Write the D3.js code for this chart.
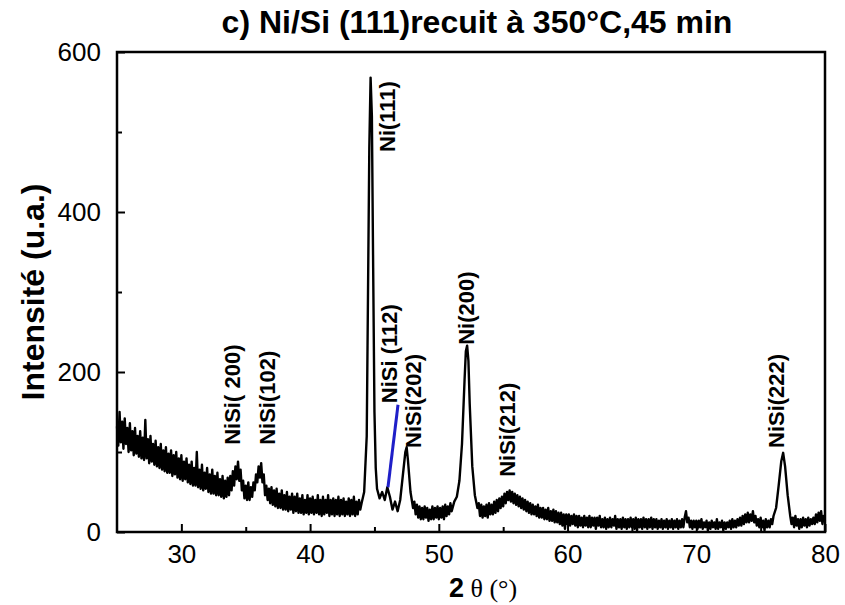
<!DOCTYPE html>
<html>
<head>
<meta charset="utf-8">
<script src="https://cdn.jsdelivr.net/npm/d3@7"></script>
<style>
  body { margin: 0; background: #fff; }
  text { font-family: "Liberation Sans", Arial, sans-serif; }
</style>
</head>
<body>
<svg id="chart"></svg>
<script>
// XRD scan, [2theta, intensity]
const pattern = [
  [25.0,132],[25.1,108],[25.2,150],[25.3,112],[25.4,138],[25.5,104],[25.6,142],[25.7,110],[25.8,130],[25.9,100],
  [26.0,136],[26.1,102],[26.2,126],[26.3,96],[26.4,130],[26.5,98],[26.6,120],[26.7,94],[26.8,126],[26.9,92],
  [27.0,118],[27.1,90],[27.2,140],[27.3,92],[27.4,116],[27.5,86],[27.6,120],[27.7,88],[27.8,110],[27.9,84],
  [28.0,114],[28.1,82],[28.2,106],[28.3,80],[28.4,110],[28.5,78],[28.6,102],[28.7,76],[28.8,106],[28.9,74],
  [29.0,98],[29.1,74],[29.2,102],[29.3,70],[29.4,96],[29.5,72],[29.6,100],[29.7,68],[29.8,92],[29.9,66],
  [30.0,96],[30.1,64],[30.2,88],[30.3,66],[30.4,92],[30.5,62],[30.6,84],[30.7,60],[30.8,88],[30.9,58],
  [31.0,80],[31.1,58],[31.2,100],[31.3,56],[31.4,78],[31.5,54],[31.6,84],[31.7,52],[31.8,74],[31.9,54],
  [32.0,80],[32.1,50],[32.2,72],[32.3,48],[32.4,78],[32.5,48],[32.6,70],[32.7,46],[32.8,74],[32.9,46],
  [33.0,66],[33.1,44],[33.2,70],[33.3,42],[33.4,64],[33.5,44],[33.6,68],[33.7,46],[33.8,70],[33.9,52],
  [34.0,76],[34.1,58],[34.2,82],[34.3,66],[34.4,88],[34.5,64],[34.6,78],[34.7,52],[34.8,64],[34.9,42],
  [35.0,58],[35.1,40],[35.2,62],[35.3,40],[35.4,56],[35.5,44],[35.6,62],[35.7,52],[35.8,72],[35.9,62],
  [36.0,82],[36.1,68],[36.2,86],[36.3,62],[36.4,72],[36.5,46],[36.6,58],[36.7,40],[36.8,54],[36.9,36],
  [37.0,56],[37.1,34],[37.2,52],[37.3,32],[37.4,54],[37.5,30],[37.6,48],[37.7,30],[37.8,52],[37.9,28],
  [38.0,46],[38.1,28],[38.2,50],[38.3,26],[38.4,44],[38.5,28],[38.6,48],[38.7,24],[38.8,44],[38.9,26],
  [39.0,48],[39.1,24],[39.2,42],[39.3,24],[39.4,46],[39.5,22],[39.6,40],[39.7,24],[39.8,46],[39.9,22],
  [40.0,42],[40.1,24],[40.2,44],[40.3,22],[40.4,40],[40.5,24],[40.6,46],[40.7,22],[40.8,40],[40.9,20],
  [41.0,44],[41.1,22],[41.2,40],[41.3,24],[41.4,46],[41.5,20],[41.6,40],[41.7,22],[41.8,42],[41.9,20],
  [42.0,40],[42.1,22],[42.2,44],[42.3,20],[42.4,40],[42.5,22],[42.6,42],[42.7,20],[42.8,38],[42.9,22],
  [43.0,42],[43.1,20],[43.2,40],[43.3,22],[43.4,44],[43.5,20],[43.6,38],[43.7,22],[43.8,40],[43.9,28],
  [44.0,36],[44.2,50],[44.4,120],[44.5,300],[44.6,480],
  [44.7,568],[44.8,520],[44.9,330],[45.0,150],[45.1,80],[45.2,54],[45.4,42],[45.6,50],[45.8,40],[46.0,56],
  [46.2,44],[46.4,28],[46.6,38],[46.8,26],[47.0,40],[47.2,70],[47.4,100],[47.5,106],[47.6,90],[47.8,50],
  [48.0,30],[48.1,38],[48.2,22],[48.3,34],[48.4,18],[48.5,32],[48.6,16],[48.7,30],[48.8,16],[48.9,32],
  [49.0,18],[49.1,30],[49.2,14],[49.3,28],[49.4,16],[49.5,32],[49.6,16],[49.7,30],[49.8,18],[49.9,32],
  [50.0,16],[50.1,30],[50.2,18],[50.3,32],[50.4,16],[50.5,34],[50.6,20],[50.7,32],[50.8,22],[50.9,36],
  [51.0,26],[51.2,38],[51.4,44],[51.6,64],[51.8,110],
  [52.0,190],[52.1,226],[52.2,233],[52.3,214],[52.4,160],[52.6,82],[52.8,46],[53.0,30],[53.1,36],[53.2,20],
  [53.3,34],[53.4,18],[53.5,32],[53.6,20],[53.7,34],[53.8,18],[53.9,36],[54.0,22],[54.1,34],[54.2,22],
  [54.3,38],[54.4,24],[54.5,40],[54.6,26],[54.7,42],[54.8,30],[54.9,44],[55.0,32],[55.1,48],[55.2,36],
  [55.3,50],[55.4,40],[55.5,52],[55.6,38],[55.7,50],[55.8,36],[55.9,48],[56.0,34],[56.1,46],[56.2,32],
  [56.3,44],[56.4,30],[56.5,42],[56.6,28],[56.7,40],[56.8,26],[56.9,38],[57.0,24],[57.1,36],[57.2,22],
  [57.3,34],[57.4,22],[57.5,32],[57.6,20],[57.7,34],[57.8,18],[57.9,30],[58.0,18],[58.1,30],[58.2,16],
  [58.3,28],[58.4,16],[58.5,30],[58.6,14],[58.7,26],[58.8,14],[58.9,28],[59.0,12],[59.1,26],[59.2,12],
  [59.3,24],[59.4,10],[59.5,24],[59.6,8],[59.7,22],[59.8,4],[59.9,22],[60.0,10],[60.1,22],[60.2,8],
  [60.3,20],[60.4,10],[60.5,22],[60.6,8],[60.7,20],[60.8,6],[60.9,20],[61.0,8],[61.1,18],[61.2,6],
  [61.3,20],[61.4,8],[61.5,18],[61.6,6],[61.7,20],[61.8,6],[61.9,18],[62.0,8],[62.1,18],[62.2,4],
  [62.3,18],[62.4,8],[62.5,20],[62.6,6],[62.7,16],[62.8,6],[62.9,18],[63.0,4],[63.1,16],[63.2,6],
  [63.3,18],[63.4,6],[63.5,16],[63.6,8],[63.7,20],[63.8,4],[63.9,16],[64.0,6],[64.1,16],[64.2,4],
  [64.3,18],[64.4,6],[64.5,16],[64.6,4],[64.7,16],[64.8,6],[64.9,18],[65.0,6],[65.1,16],[65.2,4],
  [65.3,18],[65.4,2],[65.5,16],[65.6,6],[65.7,16],[65.8,4],[65.9,18],[66.0,6],[66.1,16],[66.2,4],
  [66.3,16],[66.4,6],[66.5,18],[66.6,4],[66.7,16],[66.8,6],[66.9,16],[67.0,4],[67.1,14],[67.2,6],
  [67.3,16],[67.4,4],[67.5,14],[67.6,6],[67.7,16],[67.8,4],[67.9,14],[68.0,6],[68.1,16],[68.2,4],
  [68.3,14],[68.4,6],[68.5,16],[68.6,4],[68.7,14],[68.8,6],[68.9,16],[69.0,6],[69.1,18],[69.2,26],
  [69.3,12],[69.4,18],[69.5,6],[69.6,14],[69.7,4],[69.8,14],[69.9,6],[70.0,14],[70.1,4],[70.2,14],
  [70.3,6],[70.4,16],[70.5,4],[70.6,12],[70.7,6],[70.8,14],[70.9,2],[71.0,12],[71.1,4],[71.2,14],
  [71.3,6],[71.4,12],[71.5,4],[71.6,16],[71.7,4],[71.8,12],[71.9,6],[72.0,14],[72.1,2],[72.2,12],
  [72.3,4],[72.4,12],[72.5,6],[72.6,14],[72.7,4],[72.8,16],[72.9,6],[73.0,14],[73.1,6],[73.2,16],
  [73.3,8],[73.4,18],[73.5,8],[73.6,20],[73.7,10],[73.8,22],[73.9,12],[74.0,24],[74.1,12],[74.2,22],
  [74.3,14],[74.4,26],[74.5,12],[74.6,20],[74.7,8],[74.8,16],[74.9,6],[75.0,18],[75.1,6],[75.2,14],
  [75.3,2],[75.4,16],[75.5,6],[75.6,14],[75.7,6],[75.8,16],[75.9,10],[76.0,20],
  [76.2,30],[76.4,58],[76.6,88],[76.75,99],[76.9,82],[77.1,46],[77.3,20],
  [77.4,10],[77.5,18],[77.6,6],[77.7,20],[77.8,8],[77.9,16],[78.0,4],[78.1,16],[78.2,6],[78.3,18],
  [78.4,8],[78.5,16],[78.6,6],[78.7,18],[78.8,8],[78.9,16],[79.0,10],[79.1,18],[79.2,10],[79.3,22],
  [79.4,12],[79.5,24],[79.6,14],[79.7,26],[79.8,10],[79.9,20],[80.0,14]
]

// peak labels: text, 2theta where the label sits, intensity where it starts
const peakNames = ["NiSi( 200)", "NiSi(102)", "Ni(111)", "NiSi (112)", "NiSi(202)", "Ni(200)", "NiSi(212)", "NiSi(222)"]
const peakTheta = [33.93, 36.65, 45.97, 46.13, 48.0, 52.1, 55.3, 76.2]
const peakBase  = [109, 109, 475, 161, 105, 234, 69, 105]

// blue marker line near NiSi(112)
const markerLine = [[46.05, 56], [46.83, 159]]

const xMajor = [30, 40, 50, 60, 70, 80]
const xMinor = [35, 45, 55, 65, 75]
const yMajor = [0, 200, 400, 600]
const yMinor = [100, 300, 500]

const width = 845, height = 605
const margins = {left: 117, right: 20, top: 52, bottom: 73}

const svg = d3.select("#chart").attr("width", width).attr("height", height)

const scaleX = d3.scaleLinear().domain([25, 80]).range([margins.left, width - margins.right])
const scaleY = d3.scaleLinear().domain([0, 600]).range([height - margins.bottom, margins.top])

// title
svg.append("text")
    .text("c) Ni/Si (111)recuit à 350°C,45 min")
    .attr("x", 477).attr("y", 33)
    .attr("text-anchor", "middle")
    .attr("font-size", 32).attr("font-weight", "bold")

// axes
const bottom = height - margins.bottom
let xAxis = svg.append("g").attr("transform", `translate(0, ${bottom})`)
    .call(d3.axisBottom(scaleX).tickValues(xMajor).tickSize(-8).tickPadding(13).tickFormat(d3.format("d")))
let xAxisMinor = svg.append("g").attr("transform", `translate(0, ${bottom})`)
    .call(d3.axisBottom(scaleX).tickValues(xMinor).tickSize(-5).tickFormat(""))
let yAxis = svg.append("g").attr("transform", `translate(${margins.left}, 0)`)
    .call(d3.axisLeft(scaleY).tickValues(yMajor).tickSize(-8).tickPadding(16).tickFormat(d3.format("d")))
let yAxisMinor = svg.append("g").attr("transform", `translate(${margins.left}, 0)`)
    .call(d3.axisLeft(scaleY).tickValues(yMinor).tickSize(-5).tickFormat(""))

;[xAxis, xAxisMinor, yAxis, yAxisMinor].forEach(a => {
    a.select(".domain").remove()
    a.selectAll("line").attr("stroke", "black").attr("stroke-width", 2)
    a.selectAll("text").attr("font-size", 26).attr("font-family", "Liberation Sans, Arial, sans-serif").attr("fill", "black")
})

// the scan
let lineGenerator = d3.line()
    .x(d => scaleX(d[0]))
    .y(d => scaleY(d[1]))

svg.append("path")
    .datum(pattern)
    .attr("d", lineGenerator)
    .attr("fill", "none")
    .attr("stroke", "black")
    .attr("stroke-width", 2.4)
    .attr("stroke-linejoin", "round")

svg.append("path")
    .datum(markerLine)
    .attr("d", lineGenerator)
    .attr("fill", "none")
    .attr("stroke", "#1f1fc8")
    .attr("stroke-width", 3)

// frame
svg.append("rect")
    .attr("x", margins.left).attr("y", margins.top)
    .attr("width", width - margins.right - margins.left)
    .attr("height", height - margins.bottom - margins.top)
    .attr("fill", "none").attr("stroke", "black").attr("stroke-width", 2.5)

// peak labels
svg.append("g").selectAll("text")
    .data(peakNames)
    .join("text")
    .text(d => d)
    .attr("transform", (d, i) => `translate(${scaleX(peakTheta[i])}, ${scaleY(peakBase[i])}) rotate(-90)`)
    .attr("dy", "0.36em")
    .attr("font-size", 22).attr("font-weight", "bold")

// axis titles
svg.append("text")
    .text("Intensité (u.a.)")
    .attr("transform", `translate(44, 292) rotate(-90)`)
    .attr("text-anchor", "middle")
    .attr("font-size", 32).attr("font-weight", "bold")

let xLabel = svg.append("text")
    .attr("x", 483).attr("y", 597)
    .attr("text-anchor", "middle")
xLabel.append("tspan").text("2").attr("font-size", 27).attr("font-weight", "bold")
xLabel.append("tspan").text(" θ (°)").attr("font-size", 26).attr("font-family", "Liberation Serif, serif")
</script>
</body>
</html>
